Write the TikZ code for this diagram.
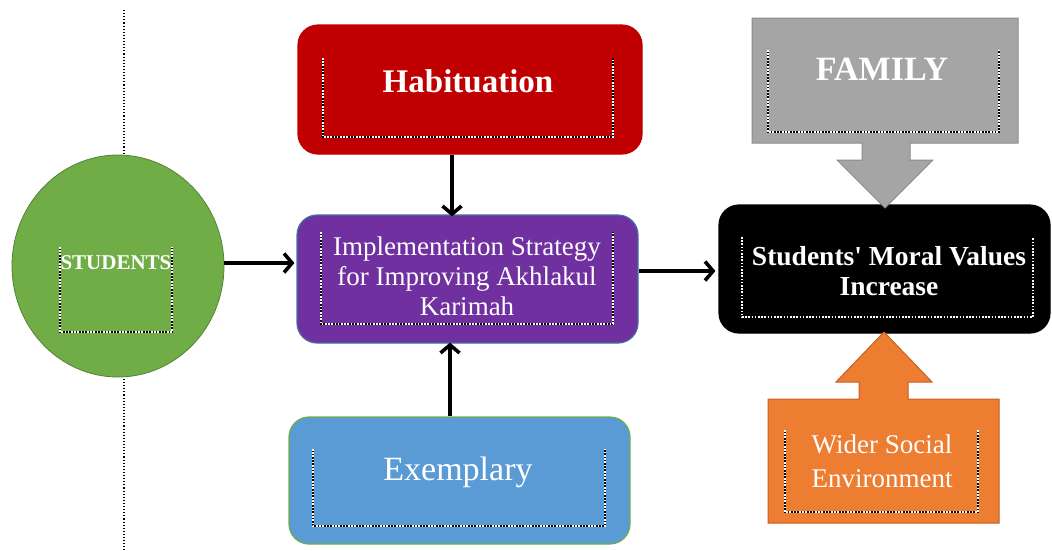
\documentclass[tikz,border=0pt]{standalone}
\usepackage{fontspec}
\setmainfont{Liberation Serif}
\newfontfamily\rawserif{Liberation Serif}[Ligatures=TeXOff]
\usetikzlibrary{arrows.meta,shapes.geometric}
\definecolor{hred}{HTML}{C00000}
\definecolor{ipurple}{HTML}{7030A0}
\definecolor{iborder}{HTML}{41719C}
\definecolor{eblue}{HTML}{5B9BD5}
\definecolor{sgreen}{HTML}{70AD47}
\definecolor{sgreenb}{HTML}{548235}
\definecolor{fgray}{HTML}{A5A5A5}
\definecolor{fgrayb}{HTML}{8C8C8C}
\definecolor{worange}{HTML}{ED7D31}
\definecolor{worangeb}{HTML}{C65F1F}
\tikzset{
  box/.style={rectangle, rounded corners=20pt, line width=1.2pt, inner sep=0pt},
  frame/.style={draw=white, line width=1.6pt, dash pattern=on 1.6pt off 1.6pt,
    preaction={draw=black, line width=1.6pt, solid}},
  arr/.style={line width=3.6pt, -{Straight Barb[length=8pt,width=19pt]}},
  lbl/.style={text=white, inner sep=0pt, anchor=base},
}
\begin{document}
\begin{tikzpicture}[x=1pt,y=-1pt]
\useasboundingbox (0,0) rectangle (1052,550);

% dotted divider behind the circle
\draw[dotted, line width=1.1pt] (124,10) -- (124,550);

% main shapes
\node[ellipse, fill=sgreen, draw=sgreenb, line width=0.8pt, minimum width=212pt, minimum height=222pt] (stud) at (118,266) {};
\node[box, fill=hred, draw=hred, minimum width=344pt, minimum height=129pt] (hab) at (470,89.5) {};
\node[box, fill=ipurple, draw=iborder, minimum width=341pt, minimum height=128pt] (impl) at (467.5,279) {};
\node[box, fill=eblue, draw=sgreen, minimum width=341pt, minimum height=127pt] (exem) at (459.5,480.5) {};
\node[box, fill=black, draw=black, minimum width=331pt, minimum height=128pt] (res) at (884.5,269) {};

% callout arrows
\draw[fill=fgray, draw=fgrayb, line width=1pt]
  (752,18) -- (1018,18) -- (1018,143) -- (910,143) -- (910,160) -- (933,160)
  -- (885,208) -- (837,160) -- (862,160) -- (862,143) -- (752,143) -- cycle;
\draw[fill=worange, draw=worangeb, line width=1pt]
  (768,399) -- (859,399) -- (859,382) -- (836,382) -- (884,332) -- (932,382)
  -- (908,382) -- (908,399) -- (999,399) -- (999,523) -- (768,523) -- cycle;

% open-top dotted text frames
\draw[frame] (60,247) -- (60,332) -- (172,332) -- (172,247);
\draw[frame] (323,58) -- (323,137) -- (613,137) -- (613,58);
\draw[frame] (321,232) -- (321,324) -- (613,324) -- (613,232);
\draw[frame] (313,449) -- (313,526) -- (605,526) -- (605,449);
\draw[frame] (742,237) -- (742,317) -- (1033,317) -- (1033,237);
\draw[frame] (768,50) -- (768,132) -- (999,132) -- (999,50);
\draw[frame] (785,430) -- (785,512) -- (978,512) -- (978,430);

% labels
\node[lbl, font=\bfseries\fontsize{21}{24}\selectfont] (tstud) at (116,269) {STUDENTS};
\node[lbl, font=\bfseries\fontsize{33}{36}\selectfont] (thab) at (468,92) {Habituation};
\node[lbl, font=\fontsize{27}{30}\selectfont] (timpl1) at (467,255) {Implementation Strategy};
\node[lbl, font=\fontsize{27}{30}\selectfont] (timpl2) at (467,285) {for Improving Akhlakul};
\node[lbl, font=\fontsize{27}{30}\selectfont] (timpl3) at (467,315) {Karimah};
\node[lbl, font=\fontsize{34}{38}\selectfont] (texem) at (458,480) {Exemplary};
\node[lbl, font=\bfseries\fontsize{34}{38}\selectfont] (tfam) at (882,80) {FAMILY};
\node[lbl, font=\rawserif\bfseries\fontsize{27.5}{30}\selectfont] (tres1) at (889,265) {Students' Moral Values};
\node[lbl, font=\bfseries\fontsize{27.5}{30}\selectfont] (tres2) at (889,295) {Increase};
\node[lbl, font=\fontsize{27}{30}\selectfont] (twid1) at (882,453) {Wider Social};
\node[lbl, font=\fontsize{27}{30}\selectfont] (twid2) at (882,487) {Environment};

% connectors
\draw[arr] (stud.east |- 0,263) -- ([xshift=-2pt]impl.west |- 0,263);
\draw[arr] ([xshift=-18pt]hab.south) -- ([xshift=-18pt,yshift=-2pt]hab.south |- impl.north);
\draw[arr] ([xshift=-9.5pt]exem.north) -- ([xshift=-9.5pt,yshift=1pt]exem.north |- impl.south);
\draw[arr] (impl.east |- 0,271) -- ([xshift=-3pt]res.west |- 0,271);
\end{tikzpicture}
\end{document}
